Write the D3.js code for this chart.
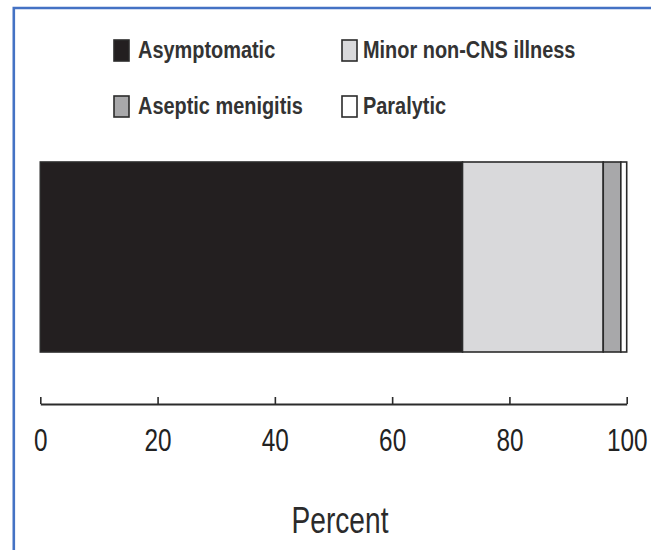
<!DOCTYPE html>
<html>
<head>
<meta charset="utf-8">
<script src="https://cdn.jsdelivr.net/npm/d3@7"></script>
<style>
  body { margin: 0; background: #fff; }
  svg { display: block; }
</style>
</head>
<body>
<svg id="chart" width="651" height="550"></svg>
<script>
// data
const categories = ["Asymptomatic", "Minor non-CNS illness", "Aseptic menigitis", "Paralytic"]
const values = [72, 24, 3, 1]
const colors = ["#231f20", "#d9d9db", "#a8a8aa", "#ffffff"]
const ticks = [0, 20, 40, 60, 80, 100]

const svg = d3.select("#chart")
const fontFam = "'Liberation Sans', Arial, sans-serif"

// blue frame
svg.append("path")
  .attr("d", "M13.8,560V8H660")
  .attr("fill", "none")
  .attr("stroke", "#4472c4")
  .attr("stroke-width", 2.6)

const xScale = d3.scaleLinear().domain([0, 100]).range([40.3, 626.7])
const barTop = 162, barBottom = 352

// stacked segments
let acc = 0
const segs = values.map((v, i) => { const s = { start: acc, end: acc + v, color: colors[i] }; acc += v; return s })

svg.selectAll("rect.seg")
  .data(segs)
  .enter()
  .append("rect")
  .attr("class", "seg")
  .attr("x", d => xScale(d.start))
  .attr("y", barTop)
  .attr("width", d => xScale(d.end) - xScale(d.start))
  .attr("height", barBottom - barTop)
  .attr("fill", d => d.color)
  .attr("stroke", "#2b2b2b")
  .attr("stroke-width", 1.6)

// axis
const xAxis = d3.axisBottom(xScale).tickValues(ticks).tickSizeInner(-7).tickSizeOuter(0).tickPadding(24)
const xAxisGroup = svg.append("g").attr("transform", "translate(0, 404)").call(xAxis)
xAxisGroup.select(".domain").attr("stroke", "#2b2b2b").attr("stroke-width", 2)
xAxisGroup.selectAll(".tick line").attr("stroke", "#2b2b2b").attr("stroke-width", 1.6)
// condensed look: squeeze labels horizontally
xAxisGroup.selectAll(".tick text")
  .attr("fill", "#222")
  .attr("transform", "scale(0.76,1)")
  .style("font-family", fontFam)
  .style("font-size", "32px")

// axis title
svg.append("text")
  .attr("transform", "translate(340, 533) scale(0.76,1)")
  .attr("text-anchor", "middle")
  .attr("fill", "#2b2b2b")
  .style("font-family", fontFam)
  .style("font-size", "37px")
  .text("Percent")

// legend
const legendPos = [[114, 40], [342, 40], [114, 96], [342, 96]]
const legend = svg.selectAll("g.legend")
  .data(categories)
  .enter()
  .append("g")
  .attr("class", "legend")
  .attr("transform", (d, i) => `translate(${legendPos[i][0]}, ${legendPos[i][1]})`)

legend.append("rect")
  .attr("x", 0).attr("y", 0)
  .attr("width", 15).attr("height", 21)
  .attr("fill", (d, i) => colors[i])
  .attr("stroke", "#2b2b2b")
  .attr("stroke-width", 1.6)

legend.append("text")
  .attr("transform", (d, i) => `translate(${i % 2 == 0 ? 24 : 21}, 18) scale(0.83,1)`)
  .attr("fill", "#333")
  .style("font-family", fontFam)
  .style("font-weight", "bold")
  .style("font-size", "24px")
  .text(d => d)
</script>
</body>
</html>
